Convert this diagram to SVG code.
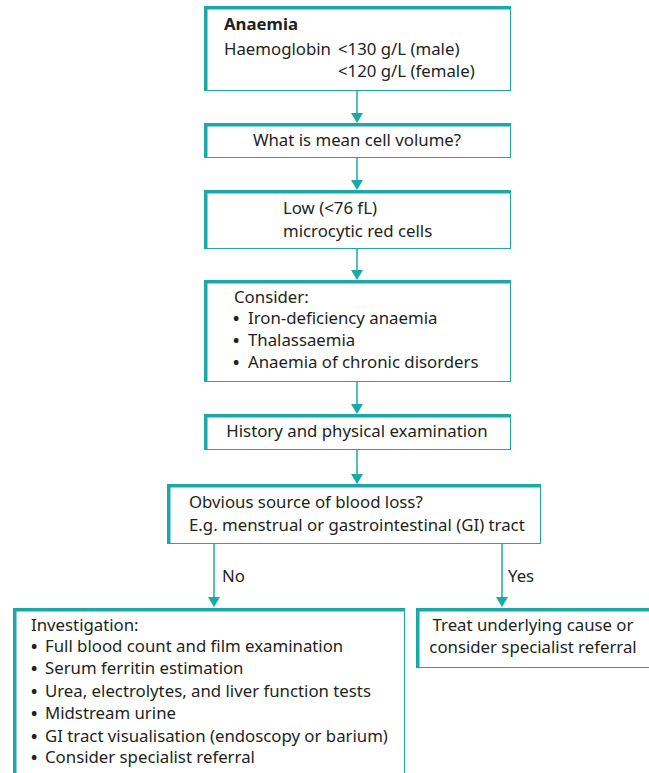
<svg xmlns="http://www.w3.org/2000/svg" width="649" height="773" viewBox="0 0 649 773">
<style>
text{font-family:"Noto Sans","Open Sans","Liberation Sans",sans-serif;font-size:16.8px;fill:#231f20}
.b{font-weight:bold}
.m{text-anchor:middle}
.bu{font-weight:bold}
.thin{fill:#fff;stroke:#1aa9a6;stroke-width:1}
.thick{fill:#1aa9a6}
.ln{stroke:#1aa9a6;stroke-width:1.5;fill:none}
.ah{fill:#1aa9a6}
</style>
<rect width="649" height="773" fill="#fff"/>
<g id="connectors">
<line class="ln" x1="357" y1="90" x2="357" y2="114"/><polygon class="ah" points="351,113 363,113 357,123"/>
<line class="ln" x1="357" y1="157" x2="357" y2="181"/><polygon class="ah" points="351,180 363,180 357,190"/>
<line class="ln" x1="357" y1="248" x2="357" y2="271"/><polygon class="ah" points="351,270 363,270 357,280"/>
<line class="ln" x1="357" y1="381" x2="357" y2="405"/><polygon class="ah" points="351,404 363,404 357,414"/>
<line class="ln" x1="357" y1="449" x2="357" y2="475"/><polygon class="ah" points="351,474 363,474 357,484"/>
<line class="ln" x1="214" y1="543" x2="214" y2="598"/><polygon class="ah" points="208,597 220,597 214,607"/>
<line class="ln" x1="502" y1="543" x2="502" y2="598"/><polygon class="ah" points="496,597 508,597 502,607"/>
<text x="222" y="582">No</text>
<text x="508" y="582">Yes</text>
</g>
<g id="n1">
<rect class="thin" x="205.5" y="7.5" width="305" height="83"/>
<rect class="thick" x="204" y="6" width="307" height="3.5"/><rect class="thick" x="204" y="6" width="3.5" height="85"/>
<text class="b" x="224" y="30">Anaemia</text>
<text x="224" y="55">Haemoglobin</text>
<text x="338" y="55">&lt;130 g/L (male)</text>
<text x="338" y="77">&lt;120 g/L (female)</text>
</g>
<g id="n2">
<rect class="thin" x="205.5" y="124.5" width="305" height="33"/>
<rect class="thick" x="204" y="123" width="307" height="3.5"/><rect class="thick" x="204" y="123" width="3.5" height="35"/>
<text class="m" x="357" y="146">What is mean cell volume?</text>
</g>
<g id="n3">
<rect class="thin" x="205.5" y="191.5" width="305" height="57"/>
<rect class="thick" x="204" y="190" width="307" height="3.5"/><rect class="thick" x="204" y="190" width="3.5" height="59"/>
<text x="283" y="214">Low (&lt;76 fL)</text>
<text x="283" y="237">microcytic red cells</text>
</g>
<g id="n4">
<rect class="thin" x="205.5" y="281.5" width="305" height="100"/>
<rect class="thick" x="204" y="280" width="307" height="3.5"/><rect class="thick" x="204" y="280" width="3.5" height="102"/>
<text x="234" y="303">Consider:</text>
<text y="324"><tspan class="bu" x="233">•</tspan><tspan x="248">Iron-deficiency anaemia</tspan></text>
<text y="346"><tspan class="bu" x="233">•</tspan><tspan x="248">Thalassaemia</tspan></text>
<text y="368"><tspan class="bu" x="233">•</tspan><tspan x="248">Anaemia of chronic disorders</tspan></text>
</g>
<g id="n5">
<rect class="thin" x="205.5" y="415.5" width="305" height="34"/>
<rect class="thick" x="204" y="414" width="307" height="3.5"/><rect class="thick" x="204" y="414" width="3.5" height="36"/>
<text class="m" x="357" y="437">History and physical examination</text>
</g>
<g id="n6">
<rect class="thin" x="168.5" y="485.5" width="372" height="58"/>
<rect class="thick" x="167" y="484" width="374" height="3.5"/><rect class="thick" x="167" y="484" width="3.5" height="60"/>
<text x="189" y="508">Obvious source of blood loss?</text>
<text x="189" y="531">E.g. menstrual or gastrointestinal (GI) tract</text>
</g>
<g id="n7">
<rect class="thin" x="14.5" y="609.5" width="390" height="170"/>
<rect class="thick" x="13" y="608" width="392" height="3.5"/><rect class="thick" x="13" y="608" width="3.5" height="170"/>
<text x="31" y="631">Investigation:</text>
<text y="652"><tspan class="bu" x="31">•</tspan><tspan x="45">Full blood count and film examination</tspan></text>
<text y="674"><tspan class="bu" x="31">•</tspan><tspan x="45">Serum ferritin estimation</tspan></text>
<text y="697"><tspan class="bu" x="31">•</tspan><tspan x="45">Urea, electrolytes, and liver function tests</tspan></text>
<text y="719"><tspan class="bu" x="31">•</tspan><tspan x="45">Midstream urine</tspan></text>
<text y="742"><tspan class="bu" x="31">•</tspan><tspan x="45">GI tract visualisation (endoscopy or barium)</tspan></text>
<text y="763"><tspan class="bu" x="31">•</tspan><tspan x="45">Consider specialist referral</tspan></text>
</g>
<g id="n8">
<rect class="thin" x="417.5" y="609.5" width="240" height="58"/>
<rect class="thick" x="416" y="608" width="240" height="3.5"/><rect class="thick" x="416" y="608" width="3.5" height="60"/>
<text class="m" x="533" y="631">Treat underlying cause or</text>
<text class="m" x="533" y="653">consider specialist referral</text>
</g>
</svg>
